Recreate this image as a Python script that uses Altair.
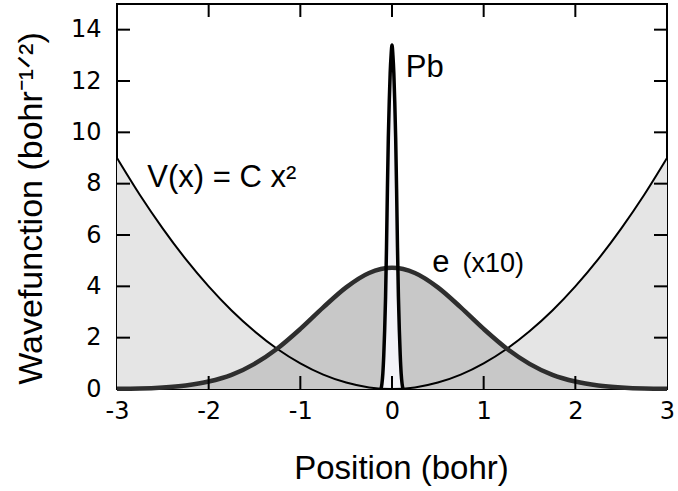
import altair as alt
import pandas as pd

# Position grid (bohr) for the confining potential and the electron wavefunction
x_grid = [-3.0, -2.75, -2.5, -2.25, -2.0, -1.75, -1.5, -1.25, -1.0, -0.75, -0.5, -0.25,
          0.0, 0.25, 0.5, 0.75, 1.0, 1.25, 1.5, 1.75, 2.0, 2.25, 2.5, 2.75, 3.0]
potential = [9.0, 7.56, 6.25, 5.06, 4.0, 3.06, 2.25, 1.56, 1.0, 0.56, 0.25, 0.06,
             0.0, 0.06, 0.25, 0.56, 1.0, 1.56, 2.25, 3.06, 4.0, 5.06, 6.25, 7.56, 9.0]
electron_x10 = [0.01, 0.02, 0.06, 0.14, 0.29, 0.55, 0.98, 1.58, 2.34, 3.18, 3.96, 4.52,
                4.72, 4.52, 3.96, 3.18, 2.34, 1.58, 0.98, 0.55, 0.29, 0.14, 0.06, 0.02, 0.01]

# Narrow Pb nucleus wavefunction
pb_x = [-0.12, -0.11, -0.10, -0.09, -0.08, -0.07, -0.06, -0.05, -0.04, -0.03, -0.02, -0.01,
        0.0, 0.01, 0.02, 0.03, 0.04, 0.05, 0.06, 0.07, 0.08, 0.09, 0.10, 0.11, 0.12]
pb_y = [0.0, 0.2, 0.6, 1.3, 2.3, 3.6, 5.5, 7.8, 9.8, 11.2, 12.3, 13.0,
        13.4, 13.0, 12.3, 11.2, 9.8, 7.8, 5.5, 3.6, 2.3, 1.3, 0.6, 0.2, 0.0]

x_ticks = [-3, -2, -1, 0, 1, 2, 3]
y_ticks = [0, 2, 4, 6, 8, 10, 12, 14]

W, H = 550, 385
TICK = 13
TEXT_FONT = "Liberation Sans"
NUM_FONT = "DejaVu Sans"

pot_df = pd.DataFrame({"x": x_grid, "y": potential})
elec_df = pd.DataFrame({"x": x_grid, "y": electron_x10})
pb_df = pd.DataFrame({"x": pb_x, "y": pb_y})
xt_df = pd.DataFrame({"x": x_ticks[1:-1]})
yt_df = pd.DataFrame({"y": y_ticks[1:]})

X = alt.X(
    "x:Q",
    scale=alt.Scale(domain=[-3, 3], nice=False, zero=False),
    axis=alt.Axis(
        values=x_ticks, labelExpr="'' + datum.value", title="Position (bohr)",
        domain=False, ticks=False, grid=False, labelFlush=False,
        labelFont=NUM_FONT, labelFontSize=24, labelColor="black", labelPadding=10,
        titleFont=TEXT_FONT, titleFontSize=33, titleFontWeight="normal", titleColor="black",
        titleBaseline="alphabetic", titleX=284, titleY=89,
    ),
)
Y = alt.Y(
    "y:Q",
    scale=alt.Scale(domain=[0, 15], nice=False, zero=True),
    axis=alt.Axis(
        values=y_ticks, labelExpr="'' + datum.value", title="Wavefunction (bohr⁻¹ᐟ²)",
        domain=False, ticks=False, grid=False, labelFlush=False,
        labelFont=NUM_FONT, labelFontSize=24, labelColor="black", labelPadding=16,
        titleFont=TEXT_FONT, titleFontSize=34, titleFontWeight="normal", titleColor="black",
        titleBaseline="alphabetic", titleAngle=-90, titleX=-76, titleY=204,
    ),
)

pot_fill = alt.Chart(pot_df).mark_area(color="#e5e5e5", interpolate="monotone").encode(x=X, y=Y)
elec_fill = alt.Chart(elec_df).mark_area(color="#c8c8c8", interpolate="monotone").encode(x=X, y=Y)
pb_fill = alt.Chart(pb_df).mark_area(color="#f3f3f8", interpolate="monotone").encode(x=X, y=Y)

pot_line = alt.Chart(pot_df).mark_line(color="black", strokeWidth=2, interpolate="monotone").encode(x=X, y=Y)
elec_line = alt.Chart(elec_df).mark_line(color="#2e2e2e", strokeWidth=4.5, interpolate="monotone").encode(x=X, y=Y)
pb_line = alt.Chart(pb_df).mark_line(color="black", strokeWidth=3.5, interpolate="monotone").encode(x=X, y=Y)

# Inward-pointing ticks on all four sides
tick_style = dict(color="black", strokeWidth=2)
bottom_ticks = alt.Chart(xt_df).mark_rule(**tick_style).encode(x=X, y=alt.value(H), y2=alt.value(H - TICK))
top_ticks = alt.Chart(xt_df).mark_rule(**tick_style).encode(x=X, y=alt.value(0), y2=alt.value(TICK))
left_ticks = alt.Chart(yt_df).mark_rule(**tick_style).encode(y=Y, x=alt.value(0), x2=alt.value(TICK))
right_ticks = alt.Chart(yt_df).mark_rule(**tick_style).encode(y=Y, x=alt.value(W), x2=alt.value(W - TICK))

# Curve labels
big_labels = pd.DataFrame({
    "x": [0.15, -2.67, 0.44],
    "y": [12.15, 7.87, 4.56],
    "label": ["Pb", "V(x) = C x²", "e"],
})
small_labels = pd.DataFrame({"x": [0.77], "y": [4.56], "label": ["(x10)"]})

big_text = alt.Chart(big_labels).mark_text(
    font=TEXT_FONT, fontSize=31, align="left", baseline="alphabetic", color="black"
).encode(x=X, y=Y, text="label:N")
small_text = alt.Chart(small_labels).mark_text(
    font=TEXT_FONT, fontSize=27, align="left", baseline="alphabetic", color="black"
).encode(x=X, y=Y, text="label:N")

chart = alt.layer(
    pot_fill, elec_fill, pb_fill,
    pot_line, elec_line, pb_line,
    bottom_ticks, top_ticks, left_ticks, right_ticks,
    big_text, small_text,
).properties(
    width=W, height=H,
    padding={"left": 117, "top": 4, "right": 11, "bottom": 102},
    autosize=alt.AutoSizeParams(type="none"),
    background="white",
).configure_view(stroke="black", strokeWidth=2)

chart.save("out.html", embed_options={"renderer": "svg", "actions": False})
